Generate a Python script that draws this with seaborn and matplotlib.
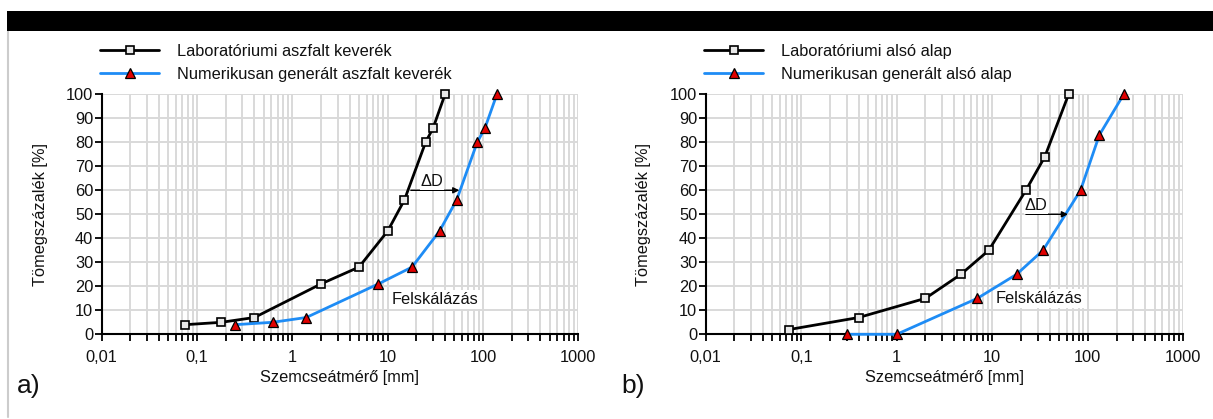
import matplotlib
matplotlib.use("Agg")
import matplotlib.pyplot as plt
import seaborn as sns
import numpy as np
import pandas as pd
from matplotlib.patches import Rectangle
from matplotlib.lines import Line2D
from matplotlib.ticker import LogLocator, FixedLocator, FuncFormatter, NullFormatter

# ---- data ----
lab_a_x = [0.075, 0.18, 0.4, 2, 5, 10, 15, 25, 30, 40]
lab_a_y = [4, 5, 7, 21, 28, 43, 56, 80, 86, 100]
num_a_x = [0.25, 0.62, 1.4, 8, 18, 35, 53, 87, 105, 140]
num_a_y = [4, 5, 7, 21, 28, 43, 56, 80, 86, 100]

lab_b_x = [0.075, 0.4, 2, 4.7, 9.2, 22.5, 35.5, 63]
lab_b_y = [2, 7, 15, 25, 35, 60, 74, 100]
num_b_x = [0.3, 1.0, 7, 18, 34, 84, 132, 238]
num_b_y = [0, 0, 15, 25, 35, 60, 83, 100]

labels_a = ["Laboratóriumi aszfalt keverék", "Numerikusan generált aszfalt keverék"]
labels_b = ["Laboratóriumi alsó alap", "Numerikusan generált alsó alap"]
x_ticks = [0.01, 0.1, 1, 10, 100, 1000]
x_ticklabels = ["0,01", "0,1", "1", "10", "100", "1000"]
y_ticks = [0, 10, 20, 30, 40, 50, 60, 70, 80, 90, 100]
xlabel = "Szemcseátmérő [mm]"
ylabel = "Tömegszázalék [%]"
# annotation anchors (data coords)
arrow_a = (17.5, 56.5, 60)      # x start, x end, y
arrow_b = (22.5, 62.0, 50)
dtext_a = (29.2, 63.5)
dtext_b = (28.8, 53.7)
felsk_a = (31.5, 14.6)
felsk_b = (31, 14.8)

sns.set_theme(style="white")
plt.rcParams['font.family'] = ['Liberation Sans', 'DejaVu Sans']

W, H = 1213, 419
fig = plt.figure(figsize=(W / 100, H / 100), dpi=100)

BLUE = "#1e8cf5"
GRID = "#d9d9d9"
FS = 11.8

def setup(ax, lab_x, lab_y, num_x, num_y, labels, arrow, dtext, felsk, legx):
    df1 = pd.DataFrame({"x": lab_x, "y": lab_y})
    df2 = pd.DataFrame({"x": num_x, "y": num_y})
    sns.lineplot(data=df1, x="x", y="y", ax=ax, color="black", lw=2.0, sort=False,
                 marker="s", markersize=6, markerfacecolor="#e8e8e8",
                 markeredgecolor="black", markeredgewidth=1.2, label=labels[0],
                 zorder=5, clip_on=False)
    sns.lineplot(data=df2, x="x", y="y", ax=ax, color=BLUE, lw=2.0, sort=False,
                 marker="^", markersize=7, markerfacecolor="#e00000",
                 markeredgecolor="black", markeredgewidth=0.9, label=labels[1],
                 zorder=6, clip_on=False)
    ax.set_xscale("log")
    ax.set_xlim(0.01, 1000)
    ax.set_ylim(0, 100)
    ax.xaxis.set_major_locator(FixedLocator(x_ticks))
    ax.xaxis.set_major_formatter(FuncFormatter(lambda v, p: x_ticklabels[x_ticks.index(v)] if v in x_ticks else ""))
    ax.xaxis.set_minor_locator(LogLocator(base=10, subs=np.arange(2, 10)))
    ax.xaxis.set_minor_formatter(NullFormatter())
    ax.yaxis.set_major_locator(FixedLocator(y_ticks))
    ax.grid(True, which="both", axis="x", color=GRID, lw=1.4, zorder=0)
    ax.grid(True, which="major", axis="y", color=GRID, lw=1.4, zorder=0)
    ax.set_axisbelow(True)
    for s in ["top", "right"]:
        ax.spines[s].set_visible(False)
    for s in ["left", "bottom"]:
        ax.spines[s].set_color("black")
        ax.spines[s].set_linewidth(1.5)
    ax.tick_params(axis="both", which="both", direction="out", color="black",
                   width=1.3, labelsize=FS, labelcolor="#111111")
    ax.tick_params(axis="x", which="both", length=5, pad=6, bottom=True)
    ax.tick_params(axis="y", which="major", length=5, pad=1, left=True)
    ax.set_xlabel(xlabel, fontsize=FS, color="#111111")
    ax.set_ylabel(ylabel, fontsize=FS, color="#111111")
    ax.xaxis.set_label_coords(0.5, -0.178)
    ax.xaxis.label.set_va("center")
    ax.yaxis.set_label_coords(-61.7 / 476.6, 0.5)
    ax.yaxis.label.set_va("center")
    # annotations
    x0, x1, yy = arrow
    ax.annotate("", xy=(x1, yy), xytext=(x0, yy),
                arrowprops=dict(arrowstyle="-|>", color="black", lw=1.0,
                                mutation_scale=9, shrinkA=0, shrinkB=0), zorder=7)
    ax.text(dtext[0], dtext[1], "ΔD", fontsize=FS, ha="center", va="center",
            color="#111111", zorder=8,
            bbox=dict(facecolor="white", edgecolor="none", pad=0.5))
    ax.text(felsk[0], felsk[1], "Felskálázás", fontsize=FS, ha="center", va="center",
            color="#111111", zorder=4,
            bbox=dict(facecolor="white", edgecolor="none", pad=1.5))
    leg = ax.legend(loc="center left", bbox_to_anchor=(legx / W, 1 - 63 / H),
                    bbox_transform=fig.transFigure, frameon=False, fontsize=FS,
                    handlelength=3.6, handletextpad=1.1, labelspacing=0.5,
                    borderpad=0, borderaxespad=0)
    for t in leg.get_texts():
        t.set_color("#111111")

ax1 = fig.add_axes([101.7 / W, (H - 334.3) / H, 476.6 / W, 240 / H])
ax2 = fig.add_axes([705.7 / W, (H - 334.3) / H, 477.6 / W, 240 / H])
setup(ax1, lab_a_x, lab_a_y, num_a_x, num_a_y, labels_a, arrow_a, dtext_a, felsk_a, 100)
setup(ax2, lab_b_x, lab_b_y, num_b_x, num_b_y, labels_b, arrow_b, dtext_b, felsk_b, 704)

fig.text(17 / W, 1 - 386 / H, "a)", fontsize=19, va="center", ha="left", color="#111111")
fig.text(621 / W, 1 - 386 / H, "b)", fontsize=19, va="center", ha="left", color="#111111")

# black header bar and light frame line
fig.patches.append(Rectangle((7 / W, 1 - 31 / H), 1, 20 / H, transform=fig.transFigure,
                             facecolor="black", edgecolor="none", zorder=10))
fig.lines.append(Line2D([7.5 / W, 7.5 / W], [1 - 31 / H, 1 - 417 / H],
                        transform=fig.transFigure, color="#cccccc", lw=1.5))

fig.savefig("out.png", dpi=100)
